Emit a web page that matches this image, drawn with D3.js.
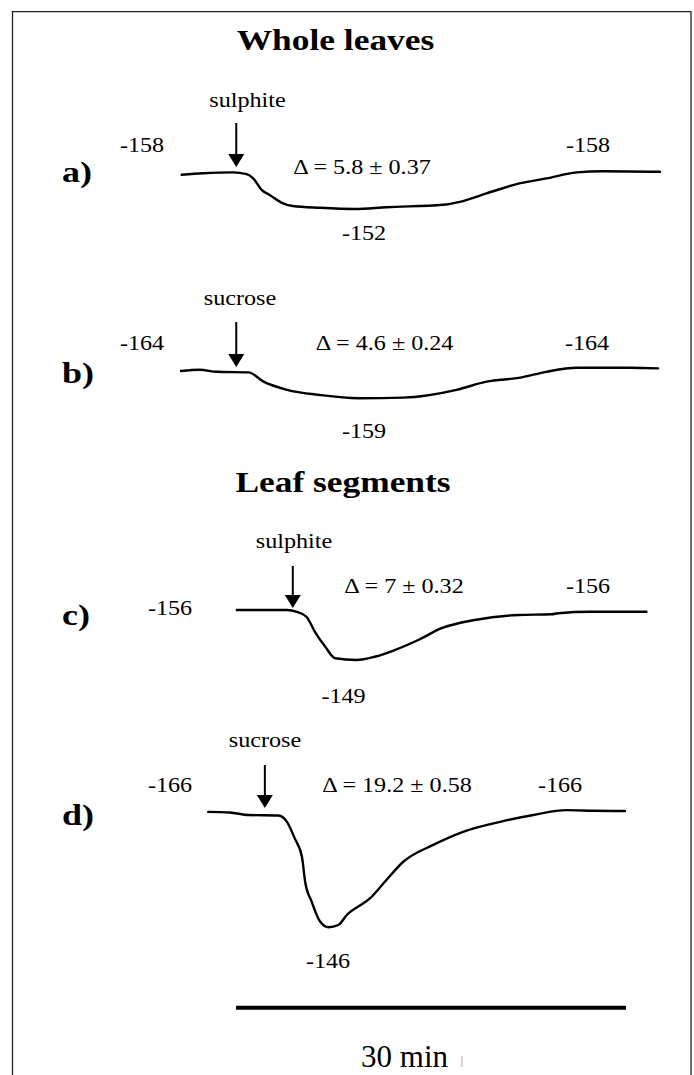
<!DOCTYPE html>
<html>
<head>
<meta charset="utf-8">
<script src="https://cdn.jsdelivr.net/npm/d3@7"></script>
<style>
  body { margin: 0; background: #fff; }
  text { font-family: "Liberation Serif", "DejaVu Serif", serif; fill: #000; }
</style>
</head>
<body>
<svg id="fig" width="694" height="1075"></svg>
<script>
// traces: [time (min), membrane potential (mV)]
const traceA = [[0.05,-157.7],[1.7,-157.95],[4.0,-158.1],[5.05,-157.8],[5.55,-157.1],[6.2,-155.2],[6.85,-154.3],[7.85,-152.95],
  [8.6,-152.5],[10.7,-152.2],[13.4,-152.0],[15.8,-152.3],[20.15,-152.7],[21.45,-153.2],[23.5,-154.6],[26.1,-156.3],
  [28.1,-157.1],[30.45,-158.1],[32.45,-158.3],[36.85,-158.2]];
const traceB = [[0,-163.75],[1.45,-163.95],[2.75,-163.6],[5.2,-163.5],[6.35,-161.9],[8.15,-160.5],[10.7,-159.6],[13.65,-159.05],
  [17.1,-159.15],[21.2,-160.5],[23.5,-161.9],[26.1,-162.6],[28.1,-163.6],[30.45,-164.3],[34.55,-164.3],[36.7,-164.2]];
const traceC = [[4.3,-156],[5.95,-156],[8.15,-156],[8.9,-155.75],[9.65,-155.05],[10.3,-152.95],[11.1,-150.85],[11.85,-149.25],
  [13.5,-149.0],[14.9,-149.45],[16.45,-150.4],[18.25,-151.8],[20.05,-153.45],[22.6,-154.6],[25.95,-155.3],[28.5,-155.4],
  [29.0,-155.55],[31.6,-155.75],[35.8,-155.75]];
const traceD = [[2.1,-166.2],[3.75,-166.1],[5.2,-165.65],[7.5,-165.55],[8.15,-164.45],[8.75,-161.55],[9.3,-158.35],[9.55,-153.95],
  [10.05,-150.45],[10.7,-146.95],[11.35,-145.95],[12.1,-146.35],[12.75,-148.1],[14.55,-151.05],[15.8,-154.25],[17.1,-157.45],
  [19.4,-160.4],[21.7,-162.7],[24.55,-164.45],[27.1,-165.65],[29.65,-166.5],[31.7,-166.4],[34.15,-166.35]];

const traces = [traceA, traceB, traceC, traceD];
const panelLetters = ["a)", "b)", "c)", "d)"];
const treatments = ["sulphite", "sucrose", "sulphite", "sucrose"];
const additionTime = [4.25, 4.25, 8.6, 6.45];
const restingMV = [-158, -164, -156, -166];
const peakMV = [-152, -159, -149, -146];
const deltaMean = ["5.8", "4.6", "7", "19.2"];
const deltaSE = ["0.37", "0.24", "0.32", "0.58"];
const sectionTitles = ["Whole leaves", "Leaf segments"];
const scaleBarStart = 4.23;
const scaleBarMin = 30;

let svg = d3.select("#fig");
const stretch = 1.15;   // the original lettering is wide

// frame
svg.append("path")
    .attr("d", "M12.5,1075 V11.7 H691 V1075")
    .attr("fill", "none")
    .attr("stroke", "#222")
    .attr("stroke-width", 1.3);

// time scale shared by all traces
let x = d3.scaleLinear()
    .domain([0, scaleBarMin])
    .range([181, 571]);

function addText(px, py, str, size, weight, anchor, sx) {
    return svg.append("text")
        .attr("transform", "translate(" + px + "," + py + ") scale(" + sx + ",1)")
        .attr("text-anchor", anchor)
        .style("font-size", size + "px")
        .style("font-weight", weight)
        .text(str);
}

// section titles
addText(335.5, 50, sectionTitles[0], 30, "bold", "middle", 1.18);
addText(343, 491.7, sectionTitles[1], 30, "bold", "middle", 1.18);

// per-panel placement
const layout = [
    {yRest: 173, yPeak: 209, letterY: 182, treatX: 247.5, treatY: 106.7, arrowTop: 123, arrowTip: 167,
     leftX: 142, leftY: 151.7, deltaX: 362, deltaY: 173.5, rightX: 588, rightY: 151.7, peakX: 364, peakY: 240},
    {yRest: 369.5, yPeak: 398.5, letterY: 383, treatX: 240, treatY: 305, arrowTop: 322, arrowTip: 367,
     leftX: 142, leftY: 350, deltaX: 384.6, deltaY: 350, rightX: 587, rightY: 350, peakX: 364, peakY: 438},
    {yRest: 610, yPeak: 660, letterY: 625, treatX: 294, treatY: 548.3, arrowTop: 566, arrowTip: 608,
     leftX: 170, leftY: 615, deltaX: 404, deltaY: 593.3, rightX: 588, rightY: 593.3, peakX: 343.5, peakY: 703.3},
    {yRest: 813, yPeak: 927, letterY: 825, treatX: 265, treatY: 747.3, arrowTop: 765, arrowTip: 808,
     leftX: 170, leftY: 791.7, deltaX: 397, deltaY: 791.7, rightX: 560, rightY: 791.7, peakX: 328, peakY: 968.3}
];

traces.forEach(function(trace, i) {
    let L = layout[i];

    // y scale for this panel
    let y = d3.scaleLinear()
        .domain([restingMV[i], peakMV[i]])
        .range([L.yRest, L.yPeak]);

    let line = d3.line()
        .x(function(d) { return x(d[0]); })
        .y(function(d) { return y(d[1]); })
        .curve(d3.curveMonotoneX);

    svg.append("path")
        .datum(trace)
        .attr("d", line)
        .attr("fill", "none")
        .attr("stroke", "#000")
        .attr("stroke-width", 2.4)
        .attr("stroke-linejoin", "round")
        .attr("stroke-linecap", "round");

    // addition arrow
    let ax = x(additionTime[i]);
    svg.append("line")
        .attr("x1", ax).attr("x2", ax)
        .attr("y1", L.arrowTop).attr("y2", L.arrowTip - 10)
        .attr("stroke", "#000")
        .attr("stroke-width", 2);
    svg.append("path")
        .attr("d", "M" + (ax - 8) + "," + (L.arrowTip - 13) + " L" + (ax + 8) + "," + (L.arrowTip - 13) +
              " L" + ax + "," + L.arrowTip + " Z")
        .attr("fill", "#000");

    addText(L.treatX, L.treatY, treatments[i], 21, "normal", "middle", stretch);
    addText(62, L.letterY, panelLetters[i], 30, "bold", "start", 1.2);
    addText(L.leftX, L.leftY, restingMV[i], 21, "normal", "middle", stretch);
    addText(L.rightX, L.rightY, restingMV[i], 21, "normal", "middle", stretch);
    addText(L.peakX, L.peakY, peakMV[i], 21, "normal", "middle", stretch);
    addText(L.deltaX, L.deltaY, "\u0394 = " + deltaMean[i] + " \u00b1 " + deltaSE[i], 21, "normal", "middle", stretch);
});

// time scale bar
svg.append("line")
    .attr("x1", x(scaleBarStart))
    .attr("x2", x(scaleBarStart + scaleBarMin))
    .attr("y1", 1007.7).attr("y2", 1007.7)
    .attr("stroke", "#000")
    .attr("stroke-width", 4);
addText(404.6, 1066.7, scaleBarMin + " min", 31, "normal", "middle", 1);
svg.append("line")
    .attr("x1", 462).attr("x2", 462)
    .attr("y1", 1056).attr("y2", 1067)
    .attr("stroke", "#aaa")
    .attr("stroke-width", 1);
</script>
</body>
</html>
